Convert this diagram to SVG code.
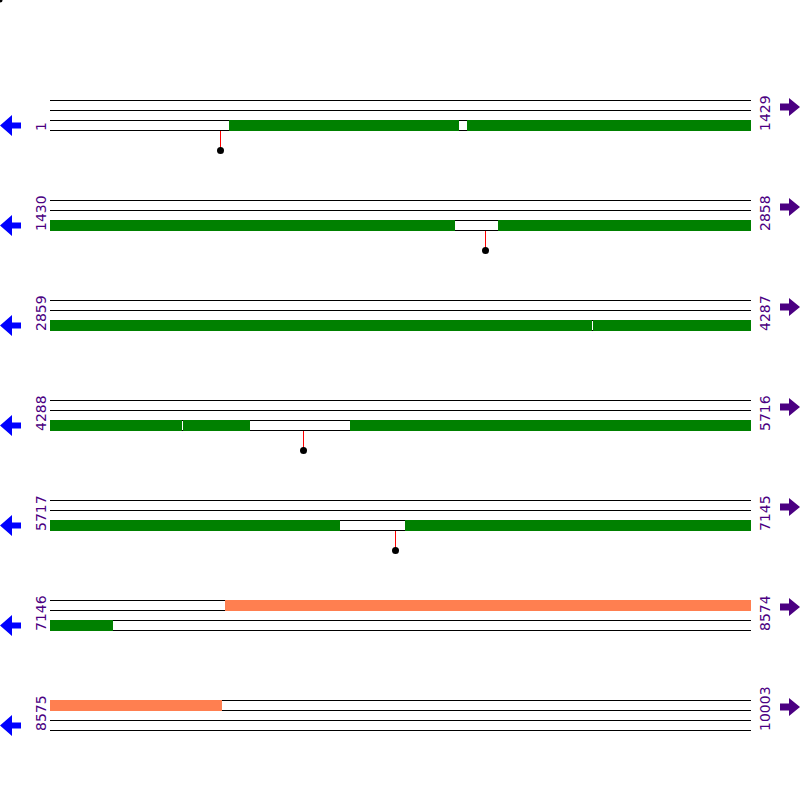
<svg xmlns="http://www.w3.org/2000/svg" width="800" height="800" viewBox="0 0 800 800">
<style>
.ln{stroke:#000;stroke-width:1;fill:none}
.g{fill:#008000}
.s{fill:#FF7F50}
.red{stroke:#FF0000;stroke-width:1}
.dot{fill:#000}
.lab{font-family:"DejaVu Sans",sans-serif;font-size:14px;fill:#4B0082}
.la{fill:#0000FF}
.ra{fill:#4B0082}
</style>
<defs>
<g id="tracks">
<line class="ln" x1="50" y1="0.5" x2="751" y2="0.5"/>
<line class="ln" x1="50" y1="10.5" x2="751" y2="10.5"/>
<line class="ln" x1="50" y1="20.5" x2="751" y2="20.5"/>
<line class="ln" x1="50" y1="30.5" x2="751" y2="30.5"/>
</g>
<polygon id="larrow" class="la" points="0,25.5 12,15 12,22.5 21,22.5 21,28.5 12,28.5 12,36"/>
<polygon id="rarrow" class="ra" points="800,7 789,-2 789,3.5 780,3.5 780,10.5 789,10.5 789,16"/>
</defs>
<circle cx="0" cy="0" r="2.5" fill="#000"/>
<g id="row1" transform="translate(0,100)">
<use href="#tracks"/>
<rect class="g" x="229" y="20" width="230" height="11"/>
<rect class="g" x="467" y="20" width="284" height="11"/>
<line class="red" x1="220.5" y1="31" x2="220.5" y2="48"/>
<circle class="dot" cx="220.5" cy="50.5" r="3.5"/>
<use href="#larrow"/><use href="#rarrow"/>
<text class="lab" transform="translate(46,31) rotate(-90)">1</text>
<text class="lab" transform="translate(770,31) rotate(-90)">1429</text>
</g>
<g id="row2" transform="translate(0,200)">
<use href="#tracks"/>
<rect class="g" x="50" y="20" width="405" height="11"/>
<rect class="g" x="498" y="20" width="253" height="11"/>
<line class="red" x1="485.5" y1="31" x2="485.5" y2="48"/>
<circle class="dot" cx="485.5" cy="50.5" r="3.5"/>
<use href="#larrow"/><use href="#rarrow"/>
<text class="lab" transform="translate(46,31) rotate(-90)">1430</text>
<text class="lab" transform="translate(770,31) rotate(-90)">2858</text>
</g>
<g id="row3" transform="translate(0,300)">
<use href="#tracks"/>
<rect class="g" x="50" y="20" width="542" height="11"/>
<rect class="g" x="593" y="20" width="158" height="11"/>
<use href="#larrow"/><use href="#rarrow"/>
<text class="lab" transform="translate(46,31) rotate(-90)">2859</text>
<text class="lab" transform="translate(770,31) rotate(-90)">4287</text>
</g>
<g id="row4" transform="translate(0,400)">
<use href="#tracks"/>
<rect class="g" x="50" y="20" width="132" height="11"/>
<rect class="g" x="183" y="20" width="67" height="11"/>
<rect class="g" x="350" y="20" width="401" height="11"/>
<line class="red" x1="303.5" y1="31" x2="303.5" y2="48"/>
<circle class="dot" cx="303.5" cy="50.5" r="3.5"/>
<use href="#larrow"/><use href="#rarrow"/>
<text class="lab" transform="translate(46,31) rotate(-90)">4288</text>
<text class="lab" transform="translate(770,31) rotate(-90)">5716</text>
</g>
<g id="row5" transform="translate(0,500)">
<use href="#tracks"/>
<rect class="g" x="50" y="20" width="290" height="11"/>
<rect class="g" x="405" y="20" width="346" height="11"/>
<line class="red" x1="395.5" y1="31" x2="395.5" y2="48"/>
<circle class="dot" cx="395.5" cy="50.5" r="3.5"/>
<use href="#larrow"/><use href="#rarrow"/>
<text class="lab" transform="translate(46,31) rotate(-90)">5717</text>
<text class="lab" transform="translate(770,31) rotate(-90)">7145</text>
</g>
<g id="row6" transform="translate(0,600)">
<use href="#tracks"/>
<rect class="s" x="225" y="0" width="526" height="11"/>
<rect class="g" x="50" y="20" width="63" height="11"/>
<use href="#larrow"/><use href="#rarrow"/>
<text class="lab" transform="translate(46,31) rotate(-90)">7146</text>
<text class="lab" transform="translate(770,31) rotate(-90)">8574</text>
</g>
<g id="row7" transform="translate(0,700)">
<use href="#tracks"/>
<rect class="s" x="50" y="0" width="172" height="11"/>
<use href="#larrow"/><use href="#rarrow"/>
<text class="lab" transform="translate(46,31) rotate(-90)">8575</text>
<text class="lab" transform="translate(770,31) rotate(-90)">10003</text>
</g>
</svg>
